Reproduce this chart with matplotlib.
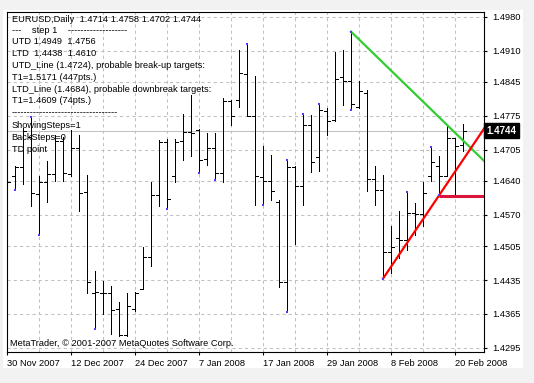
import matplotlib.pyplot as plt
from matplotlib.patches import Rectangle
from matplotlib.transforms import blended_transform_factory

# EURUSD daily bars, 30 Nov 2007 .. 21 Feb 2008
opens = [1.4719, 1.4650, 1.4668, 1.4732, 1.4613, 1.4638, 1.4655, 1.4722, 1.4655, 1.4708,
         1.4617, 1.4409, 1.4409, 1.4408, 1.4375, 1.4321, 1.4375, 1.4417, 1.4483, 1.4610,
         1.4721, 1.4651, 1.4723, 1.4741, 1.4746, 1.4686, 1.4708, 1.4657, 1.4806, 1.4807,
         1.4862, 1.4775, 1.4648, 1.4639, 1.4597, 1.4430, 1.4669, 1.4629, 1.4756, 1.4690,
         1.4784, 1.4767, 1.4856, 1.4846, 1.4794, 1.4822, 1.4644, 1.4622, 1.4493, 1.4523,
         1.4518, 1.4574, 1.4571, 1.4651, 1.4672, 1.4651, 1.4728, 1.4714]
highs = [1.4780, 1.4670, 1.4750, 1.4772, 1.4651, 1.4681, 1.4736, 1.4732, 1.4746, 1.4736,
         1.4653, 1.4454, 1.4433, 1.4423, 1.4390, 1.4409, 1.4410, 1.4504, 1.4638, 1.4725,
         1.4727, 1.4727, 1.4779, 1.4818, 1.4747, 1.4739, 1.4739, 1.4811, 1.4808, 1.4911,
         1.4923, 1.4858, 1.4713, 1.4693, 1.4600, 1.4684, 1.4670, 1.4779, 1.4777, 1.4800,
         1.4791, 1.4906, 1.4911, 1.4949, 1.4846, 1.4829, 1.4670, 1.4652, 1.4547, 1.4578,
         1.4617, 1.4595, 1.4638, 1.4710, 1.4691, 1.4756, 1.4729, 1.4758]
lows = [1.4626, 1.4622, 1.4633, 1.4588, 1.4529, 1.4596, 1.4639, 1.4639, 1.4650, 1.4578,
        1.4409, 1.4333, 1.4364, 1.4323, 1.4320, 1.4319, 1.4371, 1.4416, 1.4465, 1.4588,
        1.4582, 1.4638, 1.4684, 1.4692, 1.4657, 1.4674, 1.4641, 1.4638, 1.4756, 1.4794,
        1.4774, 1.4591, 1.4591, 1.4600, 1.4421, 1.4368, 1.4509, 1.4590, 1.4658, 1.4660,
        1.4736, 1.4765, 1.4798, 1.4786, 1.4791, 1.4619, 1.4590, 1.4438, 1.4450, 1.4481,
        1.4497, 1.4529, 1.4547, 1.4639, 1.4610, 1.4650, 1.4612, 1.4702]
closes = [1.4638, 1.4668, 1.4743, 1.4615, 1.4638, 1.4655, 1.4722, 1.4657, 1.4708, 1.4615,
          1.4430, 1.4410, 1.4408, 1.4372, 1.4321, 1.4381, 1.4409, 1.4483, 1.4610, 1.4721,
          1.4602, 1.4721, 1.4741, 1.4739, 1.4683, 1.4708, 1.4657, 1.4806, 1.4775, 1.4864,
          1.4775, 1.4651, 1.4639, 1.4619, 1.4430, 1.4669, 1.4629, 1.4756, 1.4679, 1.4787,
          1.4765, 1.4851, 1.4846, 1.4799, 1.4827, 1.4645, 1.4621, 1.4492, 1.4504, 1.4518,
          1.4574, 1.4571, 1.4615, 1.4679, 1.4651, 1.4728, 1.4712, 1.4744]

td_high_bars = [3, 30, 35, 37, 39, 43, 50, 53]
td_low_bars = [1, 4, 11, 20, 24, 26, 32, 35, 43, 47, 54]

date_label_bars = [0, 8, 16, 24, 32, 40, 48, 56]
date_labels = ['30 Nov 2007', '12 Dec 2007', '24 Dec 2007', '7 Jan 2008',
               '17 Jan 2008', '29 Jan 2008', '8 Feb 2008', '20 Feb 2008']
price_ticks = [1.4980, 1.4910, 1.4845, 1.4775, 1.4705, 1.4640,
               1.4570, 1.4505, 1.4435, 1.4365, 1.4295]

utd_bars = [43, 55]
utd_prices = [1.4949, 1.4756]
ltd_bars = [47, 54]
ltd_prices = [1.4438, 1.4610]
target_price = 1.4609
last_price = 1.4744

info_lines = ['EURUSD,Daily  1.4714 1.4758 1.4702 1.4744',
              '---    step 1    -------------------',
              'UTD 1.4949  1.4756',
              'LTD  1.4438  1.4610',
              'UTD_Line (1.4724), probable break-up targets:',
              'T1=1.5171 (447pts.)',
              'LTD_Line (1.4684), probable downbreak targets:',
              'T1=1.4609 (74pts.)',
              '----------------------------------',
              'ShowingSteps=1',
              'BackSteps=0',
              'TD point']
info_y = [19.3, 30.3, 42, 53.5, 65.5, 77.3, 89.3, 100.7, 112.3, 126, 137.3, 149.3]

W, H = 534, 383
FONT = 'Liberation Sans'
FS = 6.7

fig = plt.figure(figsize=(W / 100, H / 100), dpi=100, facecolor='#f2f2f2')
fig.patches.append(Rectangle((3 / W, 1 - 368 / H), 520 / W, 358 / H,
                             transform=fig.transFigure, facecolor='white',
                             edgecolor='none', zorder=-1))
ax = fig.add_axes([6.7 / W, (H - 351.7) / H, 477.6 / W, 340 / H])
ax.set_facecolor('white')

n = len(closes)
x_right = 59.66
ax.set_xlim(-0.04, x_right)
ax.set_ylim(1.42867, 1.49903)

# dashed grid
for i in range(4, n + 2, 4):
    ax.axvline(i, color='#c0c0c0', lw=0.75, ls=(0, (3, 3)), zorder=1)
for p in price_ticks:
    ax.axhline(p, color='#c0c0c0', lw=0.75, ls=(0, (3, 3)), zorder=1)

# last price line
ax.axhline(last_price, color='#c0c0c0', lw=0.75, zorder=1)

# OHLC bars
idx = list(range(n))
ax.vlines(idx, lows, highs, color='black', lw=0.72, antialiased=False, zorder=3)
ax.hlines(opens, [i - 0.38 for i in idx], idx, color='black', lw=0.72,
          antialiased=False, zorder=3)
ax.hlines(closes, idx, [i + 0.38 for i in idx], color='black', lw=0.72,
          antialiased=False, zorder=3)

# trend lines extended to the right edge
utd_slope = (utd_prices[1] - utd_prices[0]) / (utd_bars[1] - utd_bars[0])
ltd_slope = (ltd_prices[1] - ltd_prices[0]) / (ltd_bars[1] - ltd_bars[0])
ax.plot([utd_bars[0], x_right],
        [utd_prices[0], utd_prices[0] + utd_slope * (x_right - utd_bars[0])],
        color='#32cd32', lw=1.6, zorder=4)
ax.plot([ltd_bars[0], x_right],
        [ltd_prices[0], ltd_prices[0] + ltd_slope * (x_right - ltd_bars[0])],
        color='#ff0000', lw=1.6, zorder=4)
ax.plot([ltd_bars[1], x_right], [target_price, target_price],
        color='#dc143c', lw=2.2, solid_capstyle='butt', zorder=4)

# TD points
ax.plot(td_high_bars, [highs[i] for i in td_high_bars], 's', ms=1.6,
        color='#4b3cff', mew=0, zorder=5)
ax.plot(td_low_bars, [lows[i] for i in td_low_bars], 's', ms=1.6,
        color='#4b3cff', mew=0, zorder=5)

# axes styling
for s in ax.spines.values():
    s.set_color('black')
    s.set_linewidth(0.8)
ax.yaxis.tick_right()
ax.set_yticks(price_ticks)
ax.set_yticklabels(['%.4f' % p for p in price_ticks], fontsize=FS, family=FONT)
ax.set_xticks(date_label_bars)
ax.set_xticklabels(date_labels, fontsize=FS, family=FONT, ha='left')
ax.tick_params(axis='y', length=2.5, width=0.8, pad=3)
ax.tick_params(axis='x', length=2.5, width=0.8, pad=3)

# current price marker
tr = blended_transform_factory(ax.transAxes, ax.transData)
ax.text(1.004, last_price, '1.4744', transform=tr, fontsize=FS + 0.3, family=FONT,
        color='white', fontweight='bold', ha='left', va='center',
        bbox=dict(boxstyle='square,pad=0.25', fc='black', ec='black'), zorder=6)

# chart comments
for txt, y in zip(info_lines, info_y):
    fig.text(11.7 / W, 1 - y / H, txt, fontsize=FS, family=FONT,
             color='black', ha='left', va='center')
fig.text(10 / W, 1 - 344 / H, 'MetaTrader, \u00a9 2001-2007 MetaQuotes Software Corp.',
         fontsize=FS, family=FONT, color='black', ha='left', va='center')

fig.savefig('out.png', dpi=100, facecolor=fig.get_facecolor())
